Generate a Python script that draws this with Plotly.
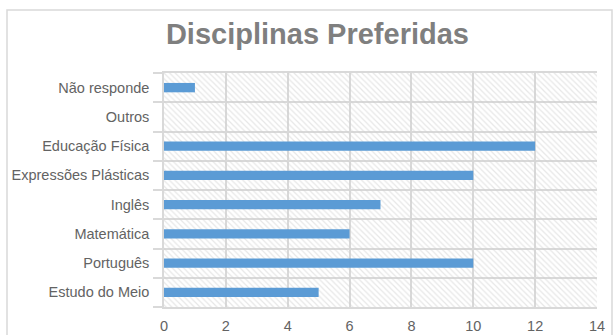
import plotly.graph_objects as go

categories = ["Estudo do Meio", "Português", "Matemática", "Inglês",
              "Expressões Plásticas", "Educação Física", "Outros", "Não responde"]
values = [5, 10, 6, 7, 10, 12, 0, 1]
x_max = 14
x_ticks = [0, 2, 4, 6, 8, 10, 12, 14]

fig = go.Figure()
# hatched plot-area background
fig.add_trace(go.Bar(
    y=categories, x=[x_max] * len(categories), orientation="h", width=1,
    marker=dict(color="rgba(0,0,0,0)", line=dict(width=0),
                pattern=dict(shape="\\", fgcolor="#cfcfcf", bgcolor="rgba(0,0,0,0)",
                             size=4, solidity=0.3)),
    hoverinfo="skip", showlegend=False))
fig.add_trace(go.Bar(
    y=categories, x=values, orientation="h", width=0.32,
    marker=dict(color="#5b9bd5", line=dict(width=0)),
    showlegend=False))

fig.update_layout(
    width=614, height=335, barmode="overlay",
    margin=dict(l=164, r=17, t=73, b=28, autoexpand=False),
    paper_bgcolor="white", plot_bgcolor="white",
    font=dict(family="Liberation Sans", color="#636363", size=14.5),
    title=dict(text="<b>Disciplinas Preferidas</b>", x=0.517, xanchor="center",
               y=0.9, yanchor="middle",
               font=dict(family="Liberation Sans", size=29, color="#7f7f7f")),
    xaxis=dict(range=[0, x_max], tickvals=x_ticks, showgrid=True,
               gridcolor="#d9d9d9", gridwidth=1.5, zeroline=False,
               showline=True, mirror=True, linecolor="#d9d9d9", linewidth=1.5,
               ticks="", ticklabelstandoff=5, automargin=False),
    yaxis=dict(type="category", categoryorder="array", categoryarray=categories,
               tickson="boundaries", showgrid=True, gridcolor="#d9d9d9",
               gridwidth=1.5, ticks="outside", ticklen=9, tickcolor="#d9d9d9",
               tickwidth=1.5, showline=True, linecolor="#d9d9d9", linewidth=1.5,
               ticklabelstandoff=10, automargin=False),
    shapes=[dict(type="rect", xref="paper", yref="paper",
                 x0=(7-164)/433, x1=(612-164)/433, y0=-0.5, y1=(307-10)/234,
                 line=dict(color="#d9d9d9", width=1.5))],
)
fig.write_html("out.html")
